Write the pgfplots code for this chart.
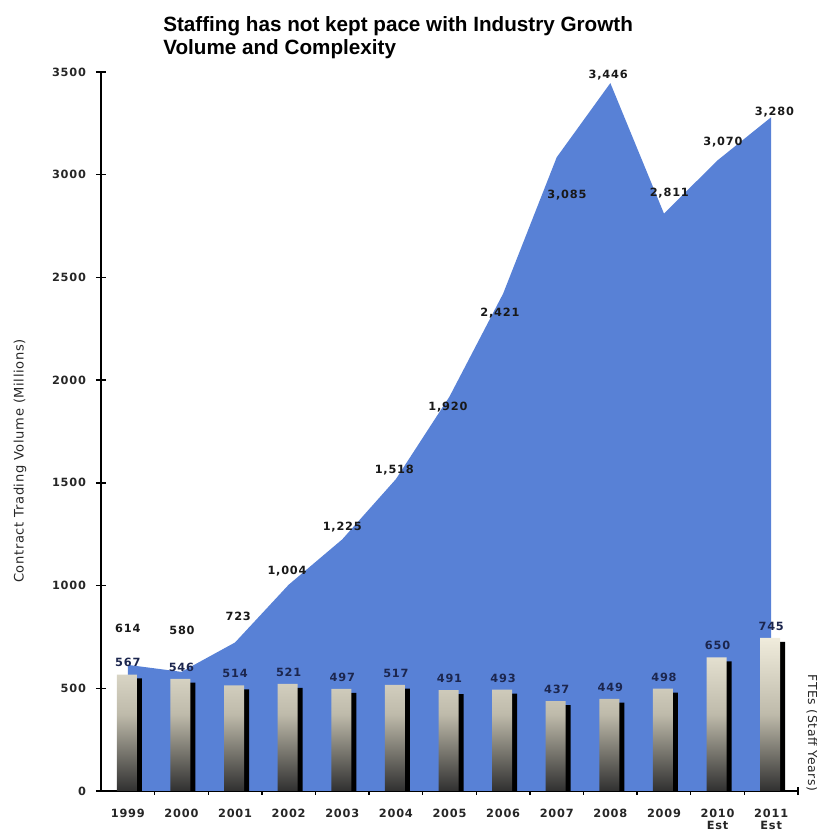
\documentclass[border=0pt]{standalone}
\usepackage{pgfplots}
\pgfplotsset{compat=1.18}
\usepackage{pgfplotstable}
\usepackage{fontspec}
\setmainfont{DejaVu Sans}
\newfontfamily\titlefont{Liberation Sans}
\newfontfamily\numfont[LetterSpace=7]{DejaVu Sans}
\newfontfamily\labfont[LetterSpace=5]{DejaVu Sans}
\definecolor{areablue}{RGB}{88,129,214}
\definecolor{barnavy}{RGB}{28,38,78}
\definecolor{bartop}{RGB}{240,236,220}
\definecolor{barmid}{RGB}{190,186,170}
\definecolor{barbot}{RGB}{48,48,48}

\pgfplotstableread{
x vol
0 614
1 580
2 723
3 1004
4 1225
5 1518
6 1920
7 2421
8 3085
9 3446
10 2811
11 3070
12 3280
}\voltable

\pgfplotstableread{
x fte
0 567
1 546
2 514
3 521
4 497
5 517
6 491
7 493
8 437
9 449
10 498
11 650
12 745
}\ftetable

\pgfplotstableread{
x fte
0 548
1 527
2 495
3 502
4 478
5 498
6 472
7 474
8 418
9 430
10 479
11 631
12 726
}\shadowtable

\pgfplotstableread{
x y label
0 794 614
1.01 784 580
2.06 852 723
2.97 1071 1,004
4.0 1285 1,225
4.97 1563 1,518
5.97 1869 1,920
6.94 2327 2,421
8.19 2902 3,085
8.96 3486 3,446
10.1 2911 2,811
11.1 3160 3,070
12.06 3306 3,280
}\labeltable

\begin{document}
\begin{tikzpicture}
\useasboundingbox (0,0) rectangle (612.75pt,624.75pt);
\begin{axis}[
  at={(75.75pt,31.5pt)}, anchor=south west,
  scale only axis, width=522.75pt, height=539.25pt,
  xmin=-0.5, xmax=12.5, ymin=0, ymax=3500,
  clip=false,
  axis x line*=bottom, axis y line*=left,
  axis line style={black, line width=1.1pt},
  xtick={0,...,12},
  xticklabels={1999,2000,2001,2002,2003,2004,2005,2006,2007,2008,2009,{2010\\Est},{2011\\Est}},
  xticklabel style={align=center, font=\numfont\bfseries\fontsize{8.5}{9}\selectfont, text=black!85, anchor=north, yshift=-6pt},
  major x tick style={draw=none},
  minor xtick={0.5,1.5,...,12.5},
  minor tick length=6pt,
  minor x tick style={black, line width=1pt},
  ytick={0,500,...,3500},
  major tick length=7.5pt,
  tick align=center,
  y tick style={black, line width=1pt},
  yticklabel style={font=\numfont\bfseries\fontsize{8.5}{8.5}\selectfont, text=black!85, anchor=east, xshift=-4pt},
  /pgf/number format/assume math mode=true,
  /pgf/number format/set thousands separator={},
]
\addplot[fill=areablue, draw=none] table[x=x, y=vol] {\voltable} \closedcycle;
\addplot[ybar, bar width=15pt, bar shift=3pt, fill=black, draw=none] table[x=x, y=fte] {\shadowtable};
\addplot[ybar, bar width=15pt, bar shift=-0.75pt, draw=none, top color=bartop, bottom color=barbot, middle color=barmid,
  nodes near coords, point meta=explicit symbolic,
  every node near coord/.append style={font=\numfont\bfseries\fontsize{8.5}{8.5}\selectfont, text=barnavy, anchor=south, yshift=2pt}]
  table[x=x, y=fte, meta=fte] {\ftetable};
\addplot[draw=none, mark=none, nodes near coords, point meta=explicit symbolic,
  every node near coord/.append style={font=\numfont\bfseries\fontsize{8.5}{8.5}\selectfont, text=black!90, anchor=center, inner sep=0pt}]
  table[x=x, y=y, meta=label] {\labeltable};
\end{axis}
\node[anchor=north west, inner sep=0pt, align=left, font=\titlefont\bfseries\fontsize{15.5}{17.5}\selectfont] at (122.25pt,612.75pt) {Staffing has not kept pace with Industry Growth\\Volume and Complexity};
\node[rotate=90, font=\labfont\fontsize{9.8}{9.8}\selectfont, text=black!85] at (15pt,279pt) {Contract Trading Volume (Millions)};
\node[rotate=-90, font=\labfont\fontsize{9.3}{9.3}\selectfont, text=black!85] at (609pt,75pt) {FTEs (Staff Years)};
\end{tikzpicture}
\end{document}
